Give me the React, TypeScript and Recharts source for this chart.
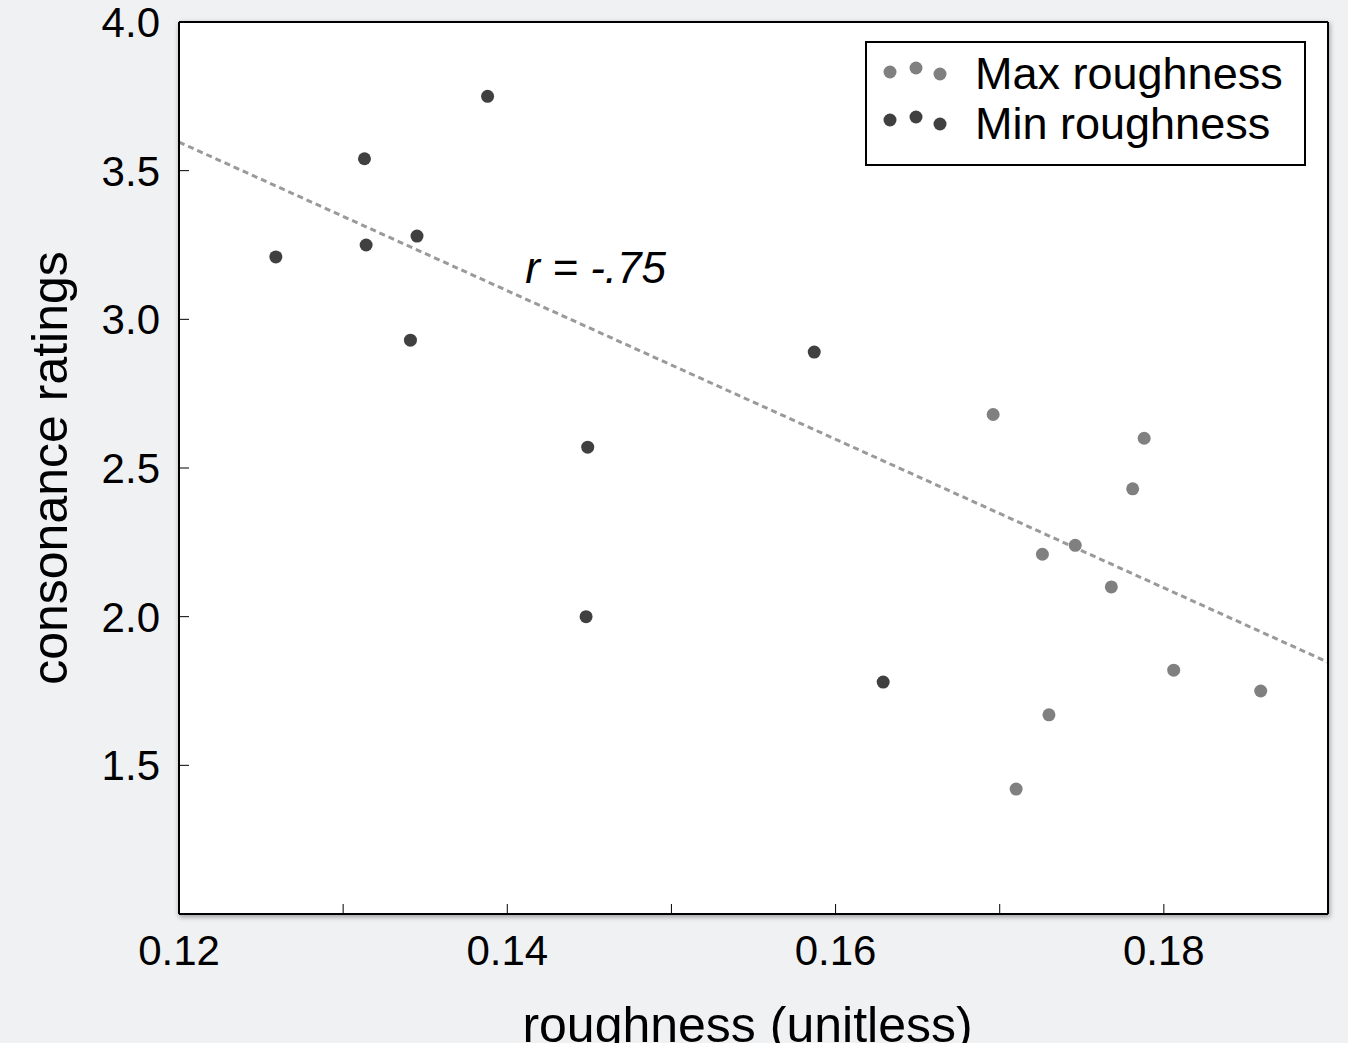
import React from 'react';
import {
  ScatterChart,
  Scatter,
  XAxis,
  YAxis,
  ReferenceLine,
  ReferenceDot,
  Legend,
} from 'recharts';

// ---- data ----
const maxRoughnessX = [0.1696, 0.1788, 0.1781, 0.1726, 0.1746, 0.1768, 0.1806, 0.1859, 0.173, 0.171];
const maxRoughnessY = [2.68, 2.6, 2.43, 2.21, 2.24, 2.1, 1.82, 1.75, 1.67, 1.42];
const minRoughnessX = [0.1259, 0.1313, 0.1314, 0.1345, 0.1341, 0.1388, 0.1449, 0.1448, 0.1587, 0.1629];
const minRoughnessY = [3.21, 3.54, 3.25, 3.28, 2.93, 3.75, 2.57, 2.0, 2.89, 1.78];

const fitLineX = [0.12, 0.19];
const fitLineY = [3.596, 1.847];

const annotationX = 0.1411;
const annotationY = 3.122;
const annotationText = 'r = -.75';

const xTicks = [0.12, 0.13, 0.14, 0.15, 0.16, 0.17, 0.18, 0.19];
const xTickLabels = ['0.12', '0.14', '0.16', '0.18'];
const yTicks = [1.0, 1.5, 2.0, 2.5, 3.0, 3.5, 4.0];
const yTickLabels = ['1.5', '2.0', '2.5', '3.0', '3.5', '4.0'];

const seriesNames = ['Max roughness', 'Min roughness'];
const seriesColors = ['#808080', '#404040'];

const maxData = maxRoughnessX.map((x, i) => ({ x, y: maxRoughnessY[i] }));
const minData = minRoughnessX.map((x, i) => ({ x, y: minRoughnessY[i] }));

// ---- layout ----
const W = 1348;
const H = 1043;
const margin = { top: 21, right: 19, bottom: 0, left: 79 };
const yAxisW = 100;
const xAxisH = 129;
const plotLeft = margin.left + yAxisW;
const plotTop = margin.top + 1;
const plotW = W - plotLeft - margin.right - 1;
const plotH = H - plotTop - margin.bottom - xAxisH;

const FONT = "'Liberation Sans', Arial, Helvetica, sans-serif";

const dotShape = (props: any) => (
  <circle cx={props.cx} cy={props.cy} r={6.5} fill={props.fill} />
);

const renderLegend = (props: any) => {
  const payload = props.payload || [];
  const rowOffsets = [
    [31, 27, 33],
    [79, 76, 83],
  ];
  const baselines = [89, 139];
  return (
    <svg width={441} height={125} style={{ display: 'block' }}>
      <rect x={1} y={1} width={439} height={123} fill="#fff" stroke="#000" strokeWidth={2} />
      {payload.map((p: any, i: number) => (
        <g key={p.value}>
          {[25, 51, 75].map((cx, j) => (
            <circle key={j} cx={cx} cy={rowOffsets[i][j]} r={6.5} fill={p.color} />
          ))}
          <text x={110} y={baselines[i] - 41} fontSize={45} fontFamily={FONT} fill="#000">
            {p.value}
          </text>
        </g>
      ))}
    </svg>
  );
};

export default function App() {
  return (
    <div
      style={{
        position: 'fixed',
        left: 0,
        top: 0,
        width: W,
        height: H,
        background: '#f0f1f3',
        overflow: 'hidden',
      }}
    >
      <div
        style={{
          position: 'absolute',
          left: plotLeft,
          top: plotTop,
          width: plotW,
          height: plotH,
          background: '#ffffff',
          boxShadow: '1px 2px 5px 1px rgba(0,0,0,0.35)',
        }}
      />
      <div style={{ position: 'absolute', left: 0, top: 0 }}>
        <ScatterChart width={W} height={H} margin={margin}>
          <XAxis
            xAxisId={0}
            type="number"
            dataKey="x"
            domain={[0.12, 0.19]}
            allowDataOverflow
            ticks={xTicks}
            interval={0}
            height={xAxisH}
            tickSize={-10}
            tickMargin={31}
            tickFormatter={(v: number) => {
              const s = v.toFixed(2);
              return xTickLabels.includes(s) ? s : '';
            }}
            tick={{ fontSize: 42, fill: '#000', fontFamily: FONT }}
            tickLine={{ stroke: '#000', strokeWidth: 1 }}
            axisLine={{ stroke: '#000', strokeWidth: 2 }}
            label={{
              content: (p: any) => {
                const vb = p.viewBox || {};
                return (
                  <text
                    x={vb.x + vb.width / 2 - 6}
                    y={vb.y + vb.height - 1}
                    textAnchor="middle"
                    fontSize={50}
                    fontFamily={FONT}
                    fill="#000"
                  >
                    roughness (unitless)
                  </text>
                );
              },
            }}
          />
          <XAxis
            xAxisId="top"
            orientation="top"
            type="number"
            domain={[0.12, 0.19]}
            allowDataOverflow
            ticks={xTicks}
            interval={0}
            height={1}
            tickSize={-10}
            tick={false}
            tickLine={{ stroke: '#000', strokeWidth: 1 }}
            axisLine={{ stroke: '#000', strokeWidth: 2 }}
          />
          <YAxis
            yAxisId={0}
            type="number"
            dataKey="y"
            domain={[1, 4]}
            allowDataOverflow
            ticks={yTicks}
            interval={0}
            width={yAxisW}
            tickSize={-10}
            tickMargin={29}
            tickFormatter={(v: number) => {
              const s = v.toFixed(1);
              return yTickLabels.includes(s) ? s : '';
            }}
            tick={{ fontSize: 42, fill: '#000', fontFamily: FONT }}
            tickLine={{ stroke: '#000', strokeWidth: 1 }}
            axisLine={{ stroke: '#000', strokeWidth: 2 }}
            label={{
              content: (p: any) => {
                const vb = p.viewBox || {};
                const x = vb.x - 12;
                const y = vb.y + vb.height / 2;
                return (
                  <text
                    x={x}
                    y={y}
                    transform={`rotate(-90, ${x}, ${y})`}
                    textAnchor="middle"
                    fontSize={50}
                    fontFamily={FONT}
                    fill="#000"
                  >
                    consonance ratings
                  </text>
                );
              },
            }}
          />
          <YAxis
            yAxisId="right"
            orientation="right"
            type="number"
            domain={[1, 4]}
            allowDataOverflow
            ticks={yTicks}
            interval={0}
            width={1}
            tickSize={-10}
            tick={false}
            tickLine={{ stroke: '#000', strokeWidth: 1 }}
            axisLine={{ stroke: '#000', strokeWidth: 2 }}
          />
          <ReferenceLine
            segment={[
              { x: fitLineX[0], y: fitLineY[0] },
              { x: fitLineX[1], y: fitLineY[1] },
            ]}
            stroke="#9a9a9a"
            strokeWidth={3}
            strokeDasharray="6 4"
          />
          <ReferenceDot
            x={annotationX}
            y={annotationY}
            r={1}
            shape={(p: any) => (
              <text
                x={p.cx}
                y={p.cy}
                fontSize={44}
                fontStyle="italic"
                fontFamily={FONT}
                fill="#000"
              >
                {annotationText}
              </text>
            )}
          />
          <Scatter
            name={seriesNames[0]}
            data={maxData}
            fill={seriesColors[0]}
            shape={dotShape}
            isAnimationActive={false}
          />
          <Scatter
            name={seriesNames[1]}
            data={minData}
            fill={seriesColors[1]}
            shape={dotShape}
            isAnimationActive={false}
          />
          <Legend
            layout="vertical"
            align="center"
            verticalAlign="middle"
            wrapperStyle={{ position: 'absolute', left: 865, top: 41, width: 441, height: 125 }}
            content={renderLegend}
          />
        </ScatterChart>
      </div>
    </div>
  );
}
